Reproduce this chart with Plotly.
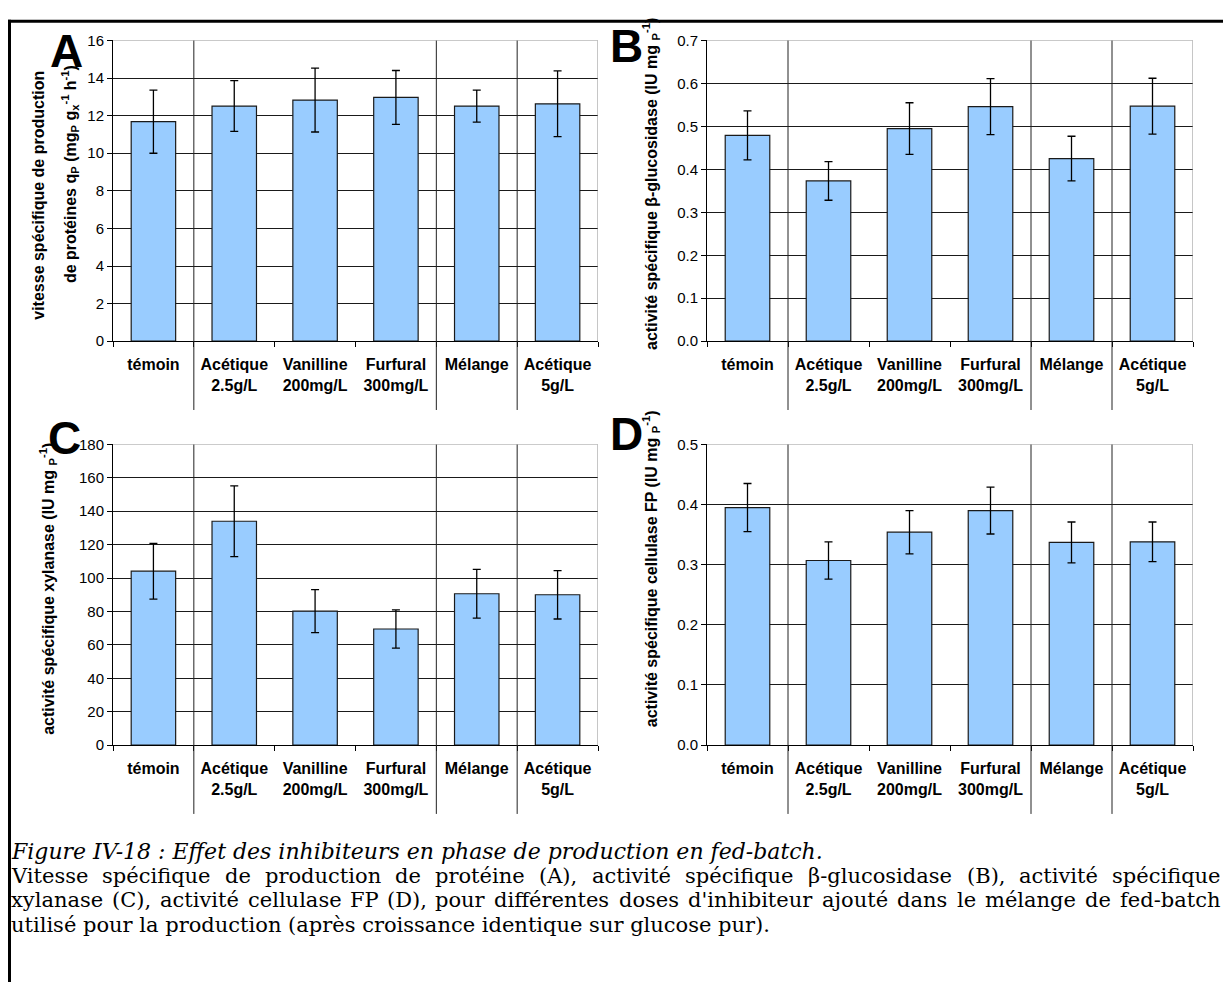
import plotly.graph_objects as go

# ---------------- data ----------------
categories = ["témoin", "Acétique<br>2.5g/L", "Vanilline<br>200mg/L",
              "Furfural<br>300mg/L", "Mélange", "Acétique<br>5g/L"]

qp_values = [11.68, 12.51, 12.83, 12.97, 12.51, 12.63]
qp_errors = [1.68, 1.35, 1.70, 1.43, 0.85, 1.75]

bglu_values = [0.479, 0.373, 0.495, 0.546, 0.425, 0.547]
bglu_errors = [0.057, 0.045, 0.060, 0.065, 0.052, 0.065]

xyl_values = [104.1, 134.0, 80.2, 69.5, 90.6, 90.0]
xyl_errors = [16.7, 21.2, 12.9, 11.4, 14.6, 14.5]

fp_values = [0.395, 0.307, 0.354, 0.390, 0.337, 0.338]
fp_errors = [0.040, 0.031, 0.036, 0.039, 0.034, 0.033]

y_ranges = [16, 0.7, 180, 0.5]
y_dticks = [2, 0.1, 20, 0.1]
y_formats = ["d", ".1f", "d", ".1f"]
separator_after = [0.5, 3.5, 4.5]

caption_title = "Figure IV-18 : Effet des inhibiteurs en phase de production en fed-batch."
caption_lines = [
    "Vitesse spécifique de production de protéine (A), activité spécifique β-glucosidase (B), activité spécifique",
    "xylanase (C), activité cellulase FP (D), pour différentes doses d'inhibiteur ajouté dans le mélange de fed-batch",
]
caption_last = "utilisé pour la production (après croissance identique sur glucose pur)."

# ---------------- layout helpers ----------------
W, H = 1223, 990
SANS = "Liberation Sans"
SERIF = "DejaVu Serif"

def xd(a, b):
    return [a / W, b / W]

def yd(top, bottom):
    return [1 - bottom / H, 1 - top / H]

panels = [
    dict(x=(113, 598), y=(32, 338), vals=qp_values, errs=qp_errors),
    dict(x=(707, 1193), y=(32, 338), vals=bglu_values, errs=bglu_errors),
    dict(x=(113, 598), y=(443, 749), vals=xyl_values, errs=xyl_errors),
    dict(x=(707, 1193), y=(443, 749), vals=fp_values, errs=fp_errors),
]

fig = go.Figure()
layout = dict(
    width=W, height=H,
    margin=dict(l=0, r=0, t=0, b=0),
    paper_bgcolor="white", plot_bgcolor="white",
    showlegend=False,
    font=dict(family=SANS, color="black"),
)
shapes = []
annotations = []

xpos = list(range(len(categories)))
for i, p in enumerate(panels):
    n = "" if i == 0 else str(i + 1)
    xa, ya = "x" + n, "y" + n
    fig.add_trace(go.Bar(
        x=xpos, y=p["vals"], xaxis=xa, yaxis=ya, width=0.55,
        marker=dict(color="#99CCFF", line=dict(color="#1a1a1a", width=1.2)),
        error_y=dict(type="data", array=p["errs"], visible=True,
                     color="black", thickness=1.3, width=4),
        hoverinfo="skip",
    ))
    layout["xaxis" + n] = dict(
        domain=xd(*p["x"]), anchor=ya, range=[-0.5, 5.5],
        tickmode="array", tickvals=xpos,
        ticktext=["<b>" + c.replace("<br>", "</b><br><b>") + "</b>" for c in categories],
        ticks="outside", ticklen=9, tickcolor="rgba(0,0,0,0)",
        tickfont=dict(family=SANS, size=16, color="black"),
        showline=True, linecolor="black", linewidth=1,
        showgrid=False, zeroline=False, fixedrange=True,
        minor=dict(tickmode="array", tickvals=[k - 0.5 for k in range(7)],
                   ticks="outside", ticklen=5, tickcolor="black", tickwidth=1,
                   showgrid=False),
    )
    layout["yaxis" + n] = dict(
        domain=yd(*p["y"]), anchor=xa, range=[0, y_ranges[i]],
        dtick=y_dticks[i], tick0=0, tickformat=y_formats[i],
        ticks="outside", ticklen=5, tickcolor="black",
        tickfont=dict(family=SANS, size=15, color="black"),
        showline=True, linecolor="black", linewidth=1,
        showgrid=True, gridcolor="#1a1a1a", gridwidth=1,
        zeroline=False, fixedrange=True,
    )
    top_paper = 1 - p["y"][0] / H
    low_paper = 1 - (p["y"][1] + 70) / H
    for s in separator_after:
        shapes.append(dict(type="line", xref=xa, yref="paper", x0=s, x1=s,
                           y0=low_paper, y1=top_paper,
                           line=dict(color="#222222", width=1), layer="above"))
    shapes.append(dict(type="line", xref=xa, yref=ya, x0=5.5, x1=5.5,
                       y0=0, y1=y_ranges[i], line=dict(color="#8c8c8c", width=1)))
    shapes.append(dict(type="line", xref=xa, yref=ya, x0=-0.5, x1=5.5,
                       y0=y_ranges[i], y1=y_ranges[i], line=dict(color="#8c8c8c", width=1)))

# panel letters
for letter, (lx, ly) in zip("ABCD", [(66, 43), (627, 38), (64, 437), (627, 432)]):
    annotations.append(dict(text="<b>%s</b>" % letter, x=lx / W, y=1 - ly / H,
                            xref="paper", yref="paper", showarrow=False,
                            xanchor="center", yanchor="middle",
                            font=dict(family=SANS, size=46, color="black")))

# y-axis titles
ytitles = [
    ("vitesse spécifique de production", 39, 190),
    ("de protéines q<sub>P</sub> (mg<sub>P</sub> g<sub>x</sub><sup>-1</sup> h<sup>-1</sup>)", 70, 168),
    ("activité spécifique β-glucosidase (IU mg <sub>P</sub><sup>-1</sup>)", 651, 178),
    ("activité spécifique xylanase (IU mg <sub>P</sub><sup>-1</sup>)", 48, 590),
    ("activité spécifique cellulase FP (IU mg <sub>P</sub><sup>-1</sup>)", 651, 570),
]
for t, tx, ty in ytitles:
    annotations.append(dict(text="<b>%s</b>" % t, x=tx / W, y=1 - ty / H,
                            xref="paper", yref="paper", showarrow=False,
                            textangle=-90, xanchor="center", yanchor="middle",
                            font=dict(family=SANS, size=16, color="black")))

# caption (DejaVu Serif widths, per 1000 em)
CAP = 21
serif_w = {" ": 318, "a": 596, "b": 641, "c": 559, "d": 641, "e": 592, "f": 371,
           "g": 641, "h": 648, "i": 320, "j": 320, "k": 620, "l": 320, "m": 969,
           "n": 648, "o": 602, "p": 641, "q": 641, "r": 478, "s": 513, "t": 402,
           "u": 648, "v": 562, "w": 821, "x": 562, "y": 562, "z": 520, "A": 722,
           "B": 688, "C": 734, "D": 771, "E": 683, "F": 662, "P": 646, "V": 722,
           "(": 390, ")": 390, ",": 318, ".": 318, "-": 345, "'": 275,
           "é": 592, "è": 592, "β": 640}

def wpx(word):
    return sum(serif_w.get(ch, 600) for ch in word) * CAP / 1000.0

cap_y = [857, 882, 907, 932]
annotations.append(dict(text="<i>%s</i>" % caption_title, x=10 / W, y=1 - cap_y[0] / H,
                        xref="paper", yref="paper", showarrow=False, borderpad=0,
                        xanchor="left", yanchor="middle",
                        font=dict(family=SERIF, size=22, color="black")))
x_left, x_right = 10, 1220
for li, line in enumerate(caption_lines):
    words = line.split(" ")
    widths = [wpx(w) for w in words]
    gap = (x_right - x_left - sum(widths)) / (len(words) - 1)
    cx = x_left
    yy = cap_y[1 + li]
    for w, ww in zip(words, widths):
        annotations.append(dict(text=w, x=cx / W, y=1 - yy / H,
                                xref="paper", yref="paper", showarrow=False,
                                borderpad=0, xanchor="left", yanchor="middle",
                                font=dict(family=SERIF, size=CAP, color="black")))
        cx += ww + gap
annotations.append(dict(text=caption_last, x=10 / W, y=1 - cap_y[3] / H,
                        xref="paper", yref="paper", showarrow=False, borderpad=0,
                        xanchor="left", yanchor="middle",
                        font=dict(family=SERIF, size=CAP, color="black")))

# outer frame
shapes.append(dict(type="line", xref="paper", yref="paper",
                   x0=8 / W, x1=1.0, y0=1 - 12.5 / H, y1=1 - 12.5 / H,
                   line=dict(color="black", width=3)))
shapes.append(dict(type="line", xref="paper", yref="paper",
                   x0=9.5 / W, x1=9.5 / W, y0=0, y1=1 - 11 / H,
                   line=dict(color="black", width=3)))

layout["shapes"] = shapes
layout["annotations"] = annotations
fig.update_layout(**layout)
fig.write_html("out.html", config={"displayModeBar": False, "staticPlot": True},
               post_script="document.body.style.margin='0px';document.body.style.overflow='hidden';")
